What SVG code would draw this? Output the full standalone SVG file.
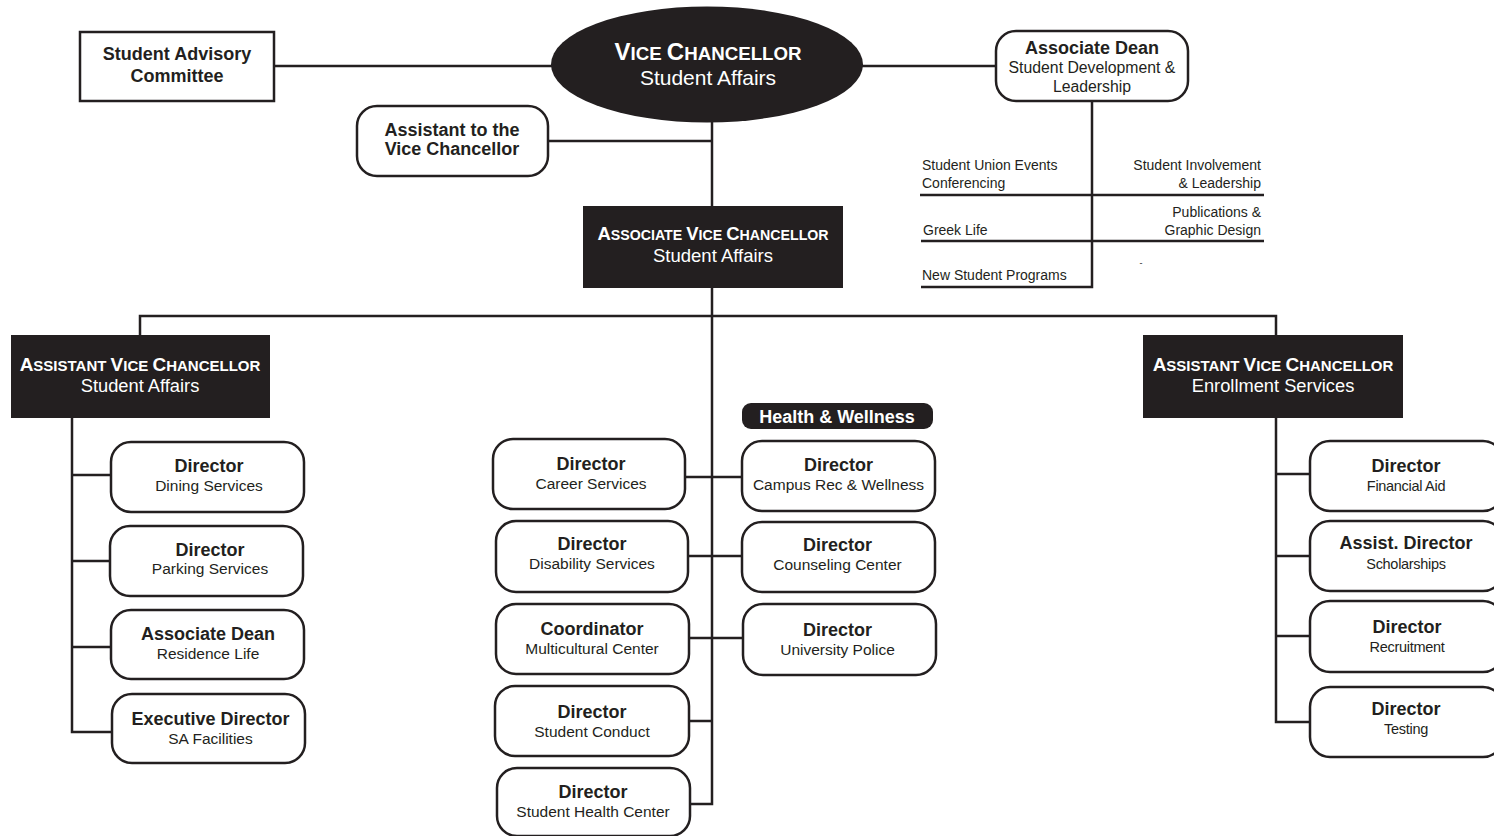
<svg xmlns="http://www.w3.org/2000/svg" width="1494" height="836" viewBox="0 0 1494 836">
<style>
.box{fill:#fff;stroke:#231f20;stroke-width:2.5}
.dark{fill:#231f20;stroke:none}
.ln{fill:none;stroke:#231f20;stroke-width:2.5}
text{font-family:"Liberation Sans",Arial,sans-serif;fill:#231f20;text-anchor:middle}
.b{font-weight:bold;font-size:18px}
.s{font-size:15.5px}
.r{font-size:14.5px;letter-spacing:-0.3px}
.w{fill:#fff}
.l{font-size:14px;text-anchor:start}
.e{font-size:14px;text-anchor:end}
</style>
<rect width="1494" height="836" fill="#fff"/>
<g id="connectors">
<path class="ln" d="M274,66 H552"/>
<path class="ln" d="M862,66 H996"/>
<path class="ln" d="M712,122 V206"/>
<path class="ln" d="M548,141 H712"/>
<path class="ln" d="M712,288 V804 H690"/>
<path class="ln" d="M140,335 V316 H1276 V335"/>
<path class="ln" d="M72,418 V732 H112"/>
<path class="ln" d="M72,475 H111 M72,561 H110 M72,647 H111"/>
<path class="ln" d="M685,477 H742 M688,556 H742 M689,638 H743 M689,721 H712"/>
<path class="ln" d="M1276,418 V722 H1310 M1276,474 H1310 M1276,556 H1310 M1276,636 H1310"/>
<path class="ln" d="M1092,101 V287 H921 M920,195 H1264 M921,241 H1264"/>
</g>
<g id="vice-chancellor">
<ellipse class="dark" cx="707" cy="64.5" rx="156" ry="58"/>
<text class="w" x="708" y="60" font-weight="bold"><tspan font-size="24">V</tspan><tspan font-size="18.7">ICE </tspan><tspan font-size="24">C</tspan><tspan font-size="18.7">HANCELLOR</tspan></text>
<text class="w" x="708" y="85" font-size="21">Student Affairs</text>
</g>
<g id="student-advisory">
<rect class="box" x="80" y="32" width="194" height="69"/>
<text class="b" x="177" y="60" font-size="17">Student Advisory</text>
<text class="b" x="177" y="82" font-size="17">Committee</text>
</g>
<g id="assistant-vc">
<rect class="box" x="357" y="106" width="191" height="70" rx="20"/>
<text class="b" x="452" y="135.5" font-size="17.5">Assistant to the</text>
<text class="b" x="452" y="154.5" font-size="17.5">Vice Chancellor</text>
</g>
<g id="assoc-dean-sdl">
<rect class="box" x="996" y="31" width="192" height="70" rx="20"/>
<text class="b" x="1092" y="53.5">Associate Dean</text>
<text x="1092" y="72.5" font-size="15.8">Student Development &amp;</text>
<text x="1092" y="91.5" font-size="15.8">Leadership</text>
</g>
<g id="sdl-programs">
<text class="l" x="922" y="170">Student Union Events</text>
<text class="l" x="922" y="187.5">Conferencing</text>
<text class="e" x="1261" y="170">Student Involvement</text>
<text class="e" x="1261" y="187.5">&amp; Leadership</text>
<text class="e" x="1261" y="217">Publications &amp;</text>
<text class="e" x="1261" y="234.5">Graphic Design</text>
<text class="l" x="923" y="234.5">Greek Life</text>
<text class="l" x="922" y="279.5">New Student Programs</text>
<text x="1141" y="266" font-size="9">-</text>
</g>
<g id="associate-vc">
<rect class="dark" x="583" y="206" width="260" height="82"/>
<text class="w" x="713" y="239.5" font-weight="bold"><tspan font-size="18.5">A</tspan><tspan font-size="14.2">SSOCIATE </tspan><tspan font-size="18.5">V</tspan><tspan font-size="14.2">ICE </tspan><tspan font-size="18.5">C</tspan><tspan font-size="14.2">HANCELLOR</tspan></text>
<text class="w" x="713" y="262" font-size="18.5">Student Affairs</text>
</g>
<g id="avc-student-affairs">
<rect class="dark" x="11" y="335" width="259" height="83"/>
<text class="w" x="140" y="371" font-weight="bold"><tspan font-size="19">A</tspan><tspan font-size="15">SSISTANT </tspan><tspan font-size="19">V</tspan><tspan font-size="15">ICE </tspan><tspan font-size="19">C</tspan><tspan font-size="15">HANCELLOR</tspan></text>
<text class="w" x="140" y="392" font-size="18.3">Student Affairs</text>
</g>
<g id="avc-enrollment">
<rect class="dark" x="1143" y="335" width="260" height="83"/>
<text class="w" x="1273" y="371" font-weight="bold"><tspan font-size="19">A</tspan><tspan font-size="15">SSISTANT </tspan><tspan font-size="19">V</tspan><tspan font-size="15">ICE </tspan><tspan font-size="19">C</tspan><tspan font-size="15">HANCELLOR</tspan></text>
<text class="w" x="1273" y="392" font-size="18.3">Enrollment Services</text>
</g>
<g id="dining">
<rect class="box" x="111" y="442" width="193" height="70" rx="20"/>
<text class="b" x="209" y="471.5">Director</text>
<text class="s" x="209" y="490.5">Dining Services</text>
</g>
<g id="parking">
<rect class="box" x="110" y="526" width="193" height="70" rx="20"/>
<text class="b" x="210" y="555.5">Director</text>
<text class="s" x="210" y="574">Parking Services</text>
</g>
<g id="residence">
<rect class="box" x="111" y="610" width="193" height="69" rx="20"/>
<text class="b" x="208" y="640">Associate Dean</text>
<text class="s" x="208" y="658.5">Residence Life</text>
</g>
<g id="facilities">
<rect class="box" x="112" y="694" width="193" height="69" rx="20"/>
<text class="b" x="210.5" y="725">Executive Director</text>
<text class="s" x="210.5" y="744">SA Facilities</text>
</g>
<g id="health-wellness">
<rect class="dark" x="742" y="403" width="191" height="26" rx="9"/>
<text class="w b" x="837" y="422.5">Health &amp; Wellness</text>
</g>
<g id="career">
<rect class="box" x="493" y="439" width="192" height="70" rx="20"/>
<text class="b" x="591" y="470">Director</text>
<text class="s" x="591" y="489">Career Services</text>
</g>
<g id="campus-rec">
<rect class="box" x="742" y="441" width="193" height="70" rx="20"/>
<text class="b" x="838.5" y="470.5">Director</text>
<text class="s" x="838.5" y="490">Campus Rec &amp; Wellness</text>
</g>
<g id="disability">
<rect class="box" x="496" y="521" width="192" height="71" rx="20"/>
<text class="b" x="592" y="550">Director</text>
<text class="s" x="592" y="569">Disability Services</text>
</g>
<g id="counseling">
<rect class="box" x="742" y="522" width="193" height="70" rx="20"/>
<text class="b" x="837.5" y="550.5">Director</text>
<text class="s" x="837.5" y="569.5">Counseling Center</text>
</g>
<g id="multicultural">
<rect class="box" x="496" y="604" width="193" height="70" rx="20"/>
<text class="b" x="592" y="635">Coordinator</text>
<text class="s" x="592" y="654">Multicultural Center</text>
</g>
<g id="police">
<rect class="box" x="743" y="604" width="193" height="71" rx="20"/>
<text class="b" x="837.5" y="635.5">Director</text>
<text class="s" x="837.5" y="654.5">University Police</text>
</g>
<g id="conduct">
<rect class="box" x="495" y="686" width="194" height="70" rx="20"/>
<text class="b" x="592" y="718">Director</text>
<text class="s" x="592" y="737">Student Conduct</text>
</g>
<g id="health-center">
<rect class="box" x="497" y="768" width="193" height="68" rx="20"/>
<text class="b" x="593" y="797.5">Director</text>
<text class="s" x="593" y="816.5">Student Health Center</text>
</g>
<g id="financial-aid">
<rect class="box" x="1310" y="441" width="193" height="70" rx="20"/>
<text class="b" x="1406" y="472">Director</text>
<text class="r" x="1406" y="490.5">Financial Aid</text>
</g>
<g id="scholarships">
<rect class="box" x="1310" y="521" width="193" height="70" rx="20"/>
<text class="b" x="1406" y="549">Assist. Director</text>
<text class="r" x="1406" y="568.5">Scholarships</text>
</g>
<g id="recruitment">
<rect class="box" x="1310" y="601" width="193" height="71" rx="20"/>
<text class="b" x="1407" y="632.5">Director</text>
<text class="r" x="1407" y="652">Recruitment</text>
</g>
<g id="testing">
<rect class="box" x="1310" y="687" width="193" height="70" rx="20"/>
<text class="b" x="1406" y="714.5">Director</text>
<text class="r" x="1406" y="733.5">Testing</text>
</g>
</svg>
